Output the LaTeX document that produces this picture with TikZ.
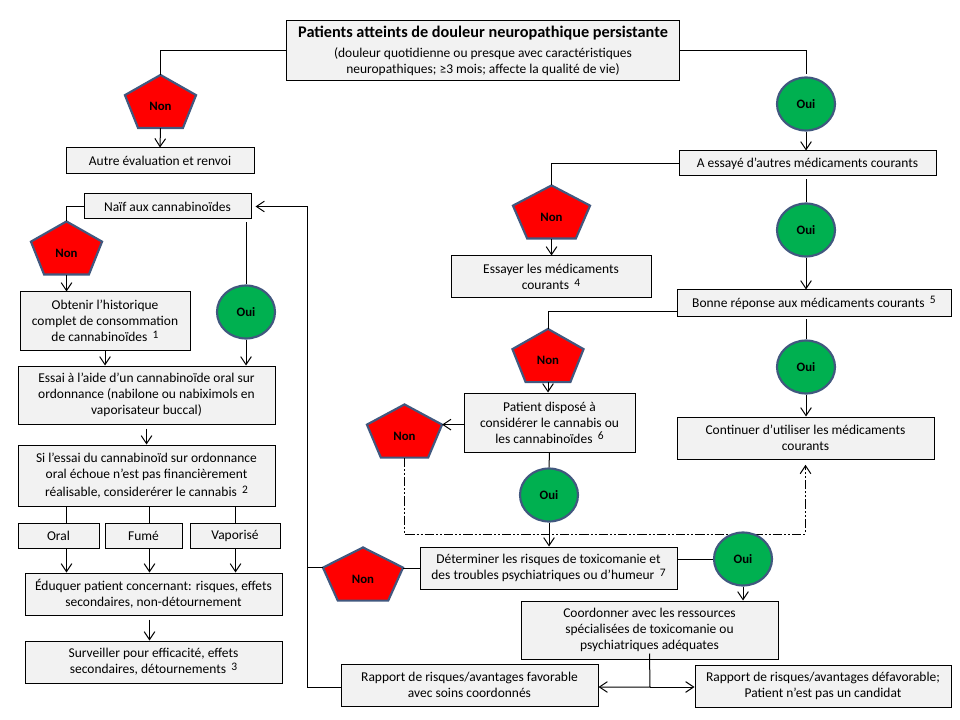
\documentclass[tikz,border=0pt]{standalone}
\usepackage{fontspec}
\setmainfont{Carlito}
\usepackage{tikz}
\usetikzlibrary{calc,arrows.meta,shapes.geometric}
\definecolor{boitefond}{HTML}{F2F2F2}
\definecolor{contour}{HTML}{41587F}
\definecolor{vertoui}{HTML}{00B050}
\newcommand{\px}{0.75pt}
\newcommand{\renvoi}[1]{\,\raisebox{.5ex}{\fontsize{8.6pt}{0pt}\selectfont #1}}
\newdimen\pentxc \newdimen\pentyc \newdimen\pentxa \newdimen\pentya
\newdimen\pentxb \newdimen\pentyb \newdimen\pentyv \newdimen\pentdx
\makeatletter
\newcommand{\pentcalc}{%
  \southwest\pentxa=\pgf@x\pentya=\pgf@y
  \northeast\pentxb=\pgf@x\pentyb=\pgf@y
  \pentxc=.5\pentxa\advance\pentxc by.5\pentxb
  \pentyc=.5\pentya\advance\pentyc by.5\pentyb
  \pentyv=.24\pentyb\advance\pentyv by.76\pentyc
  \pentdx=.63\pentxb\advance\pentdx by-.63\pentxc}
\pgfdeclareshape{pentagone}{
  \inheritsavedanchors[from=rectangle]
  \inheritanchorborder[from=rectangle]
  \inheritanchor[from=rectangle]{center}
  \anchor{text}{\pgfqpoint{0pt}{-4pt}}
  \anchor{north}{\pentcalc\pgf@x=\pentxc\pgf@y=\pentyb}
  \anchor{south}{\pentcalc\pgf@x=\pentxc\pgf@y=\pentya}
  \anchor{east}{\pentcalc\pgf@x=\pentxb\pgf@y=\pentyv}
  \anchor{west}{\pentcalc\pgf@x=\pentxa\pgf@y=\pentyv}
  \backgroundpath{
    \pentcalc
    \pgfpathmoveto{\pgfqpoint{\pentxc}{\pentyb}}
    \pgfpathlineto{\pgfqpoint{\pentxb}{\pentyv}}
    \pgfpathlineto{\pgfqpoint{\dimexpr\pentxc+\pentdx\relax}{\pentya}}
    \pgfpathlineto{\pgfqpoint{\dimexpr\pentxc-\pentdx\relax}{\pentya}}
    \pgfpathlineto{\pgfqpoint{\pentxa}{\pentyv}}
    \pgfpathclose
  }
}
\makeatother
\tikzset{
  boite/.style 2 args={draw, line width=0.75pt, fill=boitefond, minimum width=#1*\px, minimum height=#2*\px,
    inner sep=0pt, align=center, font=\fontsize{10.1pt}{12pt}\selectfont},
  non/.style={pentagone, draw=contour, line width=1.6pt, fill=red, minimum width=#1*\px, minimum height=51*\px,
    inner sep=0pt, font=\fontsize{9.6pt}{12pt}\selectfont\bfseries},
  oui/.style={ellipse, draw=contour, line width=1.6pt, fill=vertoui, minimum width=58*\px, minimum height=53*\px,
    inner sep=0pt, font=\fontsize{9.6pt}{12pt}\selectfont\bfseries},
  trait/.style={line width=0.75pt},
  fleche/.style={trait, -{Straight Barb[length=6pt,width=8pt]}},
  mixte/.style={fleche, dash pattern=on 7pt off 1.5pt on 1.5pt off 1.5pt on 1.5pt off 1.5pt}
}

\begin{document}
\begin{tikzpicture}[x=0.75pt,y=-0.75pt]
      \useasboundingbox (0,0) rectangle (960,720);
      \fill[white] (0,0) rectangle (960,720);
      % boites
      \node (Patients) at (483,50.5) [boite={393}{60}] {{\fontsize{12.2pt}{15pt}\selectfont\bfseries Patients atteints de douleur neuropathique persistante}\\[3pt]
        (douleur quotidienne ou presque avec caractéristiques\\ neuropathiques; ≥3 mois; affecte la qualité de vie)};
      \node (Autre) at (160,161) [boite={188}{26}] {Autre évaluation et renvoi};
      \node (Naif) at (167.5,206.5) [boite={167}{25}] {Naïf aux cannabinoïdes};
      \node (Obtenir) at (105,321) [boite={170}{58}] {Obtenir l’historique\\ complet de consommation\\ de cannabinoïdes \renvoi{1}};
      \node (Essai) at (146.5,395) [boite={257}{58}] {Essai à l’aide d’un cannabinoïde oral sur\\ ordonnance (nabilone ou nabiximols en\\ vaporisateur buccal)};
      \node (Si) at (146.5,475.5) [boite={257}{61}] {Si l’essai du cannabinoïd sur ordonnance\\ oral échoue n’est pas financièrement\\[1.5pt] réalisable, considerérer le cannabis \renvoi{2}};
      \node (Oral) at (58.5,535.5) [boite={81}{25}] {Oral};
      \node (Fume) at (143.5,535.5) [boite={77}{25}] {Fumé};
      \node (Vaporise) at (235,535.5) [boite={90}{25}] {Vaporisé};
      \node (Eduquer) at (153.5,594) [boite={257}{42}] {Éduquer patient concernant: risques, effets\\ secondaires, non-détournement};
      \node (Surveiller) at (153.5,662) [boite={257}{42}] {Surveiller pour efficacité, effets\\ secondaires, détournements \renvoi{3}};
      \node (Essaye) at (807.5,163.5) [boite={257}{25}] {A essayé d’autres médicaments courants};
      \node (Essayer) at (551,277) [boite={200}{42}] {Essayer les médicaments\\ courants \renvoi{4}};
      \node (Bonne) at (814,303) [boite={274}{26}] {Bonne réponse aux médicaments courants \renvoi{5}};
      \node (Dispose) at (549.5,422.5) [boite={171}{59}] {Patient disposé à\\ considérer le cannabis ou\\ les cannabinoïdes \renvoi{6}};
      \node (Continuer) at (805.5,438) [boite={257}{42}] {Continuer d’utiliser les médicaments\\ courants};
      \node (Determiner) at (548.5,568) [boite={257}{42}] {Déterminer les risques de toxicomanie et\\ des troubles psychiatriques ou d’humeur \renvoi{7}};
      \node (Coordonner) at (649.5,630) [boite={257}{58}] {Coordonner avec les ressources\\ spécialisées de toxicomanie ou\\ psychiatriques adéquates};
      \node (Favorable) at (469.5,685) [boite={257}{42}] {Rapport de risques/avantages favorable\\ avec soins coordonnés};
      \node (Defavorable) at (823,686) [boite={256}{42}] {Rapport de risques/avantages défavorable;\\ Patient n’est pas un candidat};
      % non
      \node (N1) at (160.5,101.5) [non=69] {Non};
      \node (N2) at (66.5,248) [non=69] {Non};
      \node (N3) at (551.5,212) [non=75] {Non};
      \node (N4) at (548,355.5) [non=69] {Non};
      \node (N5) at (404.5,431) [non=73] {Non};
      \node (N6) at (363,574) [non=78] {Non};
      % oui
      \node (O1) at (806,104) [oui] {Oui};
      \node (O2) at (806,230) [oui] {Oui};
      \node (O3) at (806,367) [oui] {Oui};
      \node (O4) at (549,495) [oui] {Oui};
      \node (O5) at (246,312) [oui] {Oui};
      % partie droite
      \draw[trait] (Patients.west) -| (N1.north);
      \draw[fleche] (N1.south) to (Autre.north);
      \draw[trait,shorten >=2pt] (Patients.east) -| (O1.north);
      \draw[fleche] (O1.south) to (O1.south |- Essaye.north);
      \draw[trait] (Essaye.west) -| (N3.north);
      \draw[fleche] (N3.south) to (N3.south |- Essayer.north);
      \draw[trait,shorten <=2pt] (O2.north |- Essaye.south) to (O2.north);
      \draw[fleche] (O2.south) to (O2.south |- Bonne.north);
      \draw[trait] ($(Bonne.west)+(0,8)$) -| (N4.north);
      \draw[fleche] (N4.south) to (N4.south |- Dispose.north);
      \draw[trait,shorten <=2pt] (O3.north |- Bonne.south) to (O3.north);
      \draw[fleche,shorten >=0pt] (O3.south) to (O3.south |- Continuer.north);
      \draw[fleche] (Dispose.west |- N5.east) to (N5.east);
      \draw[trait] (Dispose.south) to (O4.north);
      \draw[fleche] (O4.south) to (O4.south |- Determiner.north);
      % retour mixte
      \coordinate (Coude) at (805.5,534);
      \draw[mixte,shorten >=4pt] (N5.south) |- (Coude) to (Coude |- Continuer.south);
      \node (O6) at (743,559) [oui] {Oui};
      \draw[trait] (Determiner.east |- O6.west) to (O6.west);
      \draw[fleche] (O6.south) to (O6.south |- Coordonner.north);
      \draw[trait] (Determiner.west) to (Determiner.west -| N6.east);
      % retour vers le haut
      \coordinate (Retour) at (307,206.5);
      \draw[fleche,shorten >=3pt] ($(Favorable.west)+(0,2)$) -| (Retour) to (Naif.east);
      \draw[trait] (N6.west) to (N6.west -| Retour);
      \coordinate (Partage) at (650,687);
      \draw[fleche] ($(Coordonner.south)+(0,-6)$) to (Partage) to (Favorable.east |- Partage);
      \draw[fleche] (Partage) to (Defavorable.west |- Partage);
      % partie gauche
      \draw[trait] (Naif.west) -| (N2.north);
      \draw[fleche] (N2.south) to (N2.south |- Obtenir.north);
      \draw[trait,shorten <=2pt] (O5.north |- Naif.south) to (O5.north);
      \draw[fleche] (O5.south) to (O5.south |- Essai.north);
      \draw[fleche] (Obtenir.south) to (Obtenir.south |- Essai.north);
      \draw[fleche,shorten <=3pt] (Essai.south) to (Si.north);
      \coordinate (XOral) at (66.5,0);
      \coordinate (XFume) at (149.5,0);
      \coordinate (XVapo) at (235.5,0);
      \draw[trait] (XOral |- Si.south) to (XOral |- Oral.north);
      \draw[trait] (XFume |- Si.south) to (XFume |- Fume.north);
      \draw[trait] (XVapo |- Si.south) to (XVapo |- Vaporise.north);
      \draw[fleche] (XOral |- Oral.south) to (XOral |- Eduquer.north);
      \draw[fleche] (XFume |- Fume.south) to (XFume |- Eduquer.north);
      \draw[fleche] (XVapo |- Vaporise.south) to (XVapo |- Eduquer.north);
      \draw[fleche,shorten <=3pt] (XFume |- Eduquer.south) to (XFume |- Surveiller.north);
    \end{tikzpicture}
\end{document}
